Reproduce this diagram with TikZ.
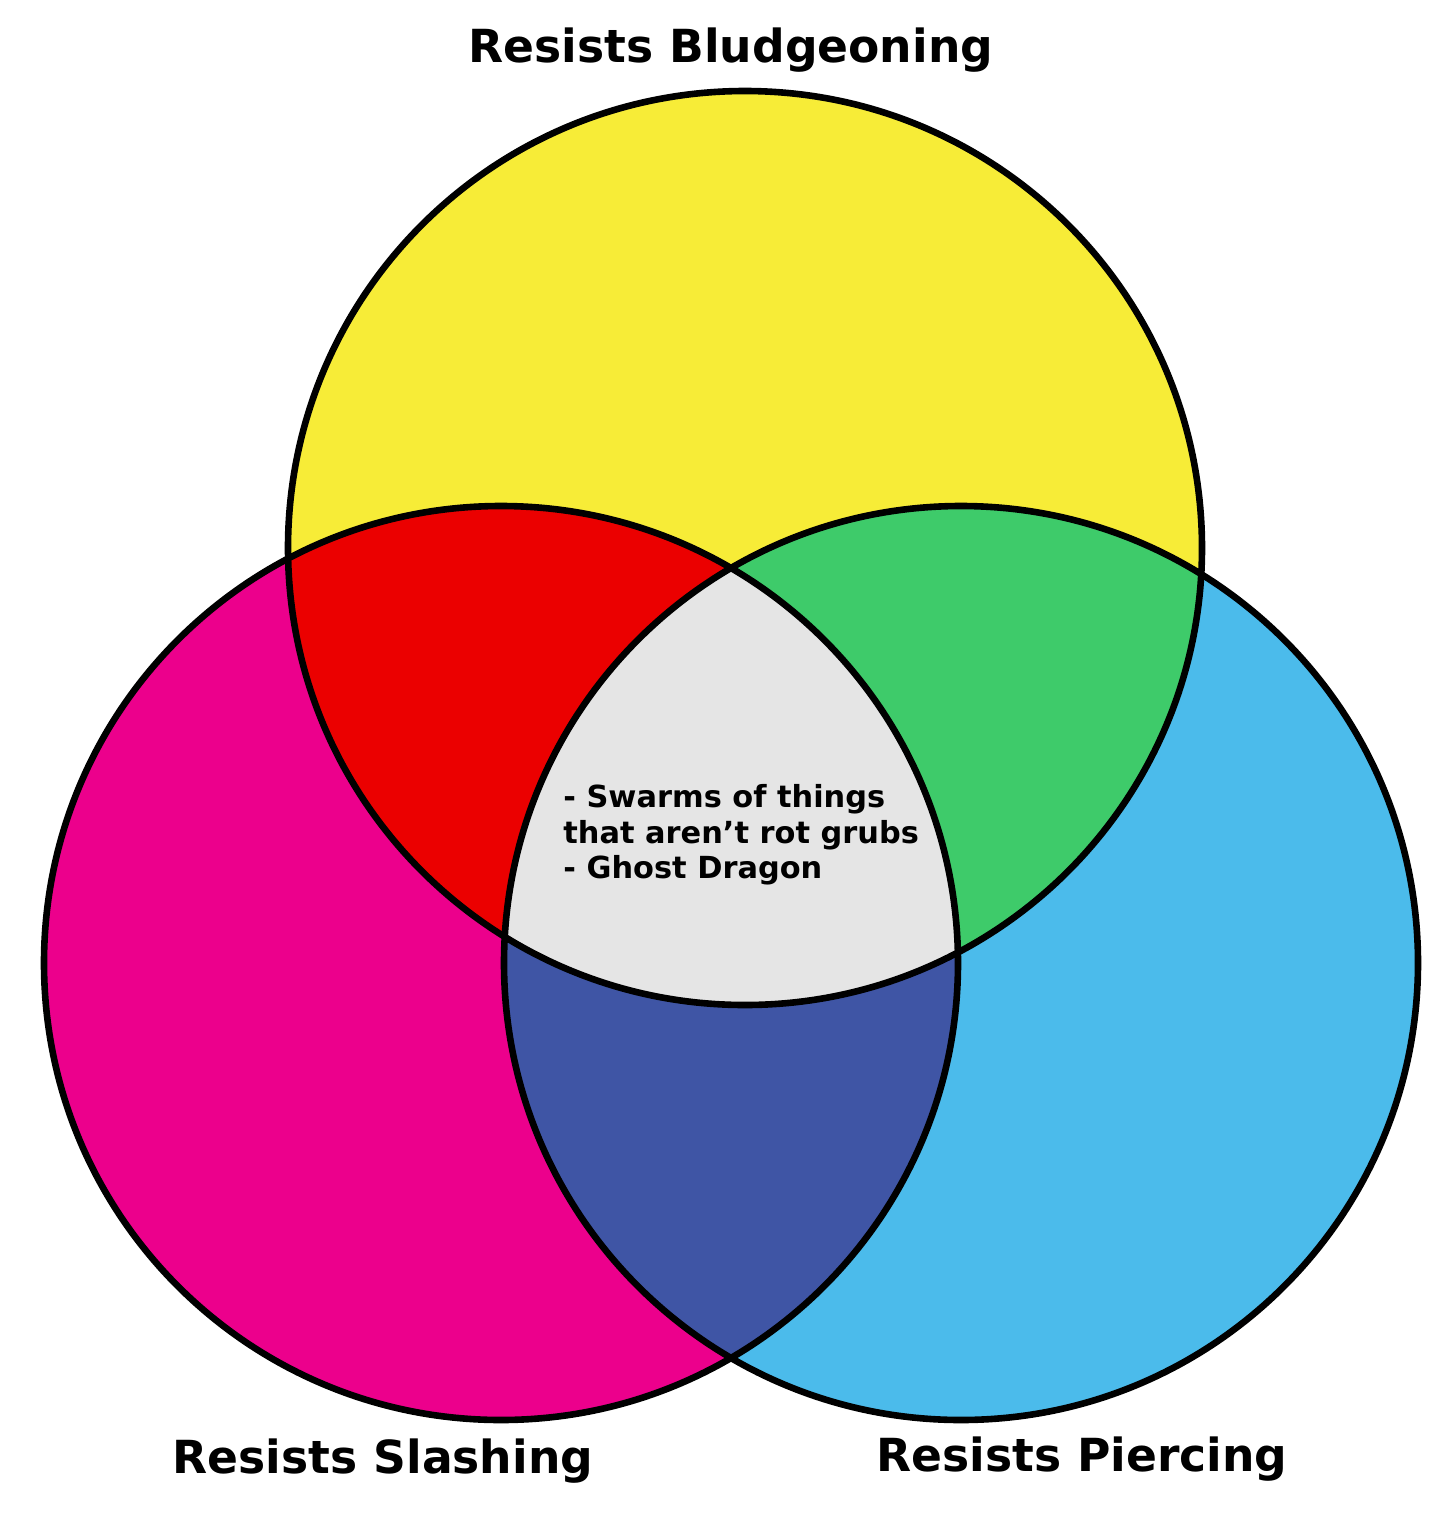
\documentclass[tikz,border=0pt]{standalone}
\usepackage{fontspec}
\setmainfont{DejaVu Sans}
\definecolor{cyel}{HTML}{F7EC37}
\definecolor{cmag}{HTML}{EC008C}
\definecolor{ccya}{HTML}{4BBBEB}
\definecolor{cred}{HTML}{EB0000}
\definecolor{cgrn}{HTML}{3ECB6A}
\definecolor{cblu}{HTML}{3F55A5}
\definecolor{cgry}{HTML}{E5E5E5}
\begin{document}
\begin{tikzpicture}[x=0.5pt,y=-0.5pt,
  ring/.style={draw=black,line width=3.3pt},
  biglabel/.style={font=\bfseries\fontsize{22.8}{27}\selectfont,inner sep=0pt},
  smalllabel/.style={font=\bfseries\fontsize{15.2}{17.8}\selectfont,inner sep=0pt,align=left,anchor=north west}]
\useasboundingbox (0,0) rectangle (1456,1527);
\def\T{(745,548) circle (457)}
\def\L{(501,963) circle (457)}
\def\R{(961,963) circle (457)}
\fill[cyel] \T;
\fill[cmag] \L;
\fill[ccya] \R;
\begin{scope}\clip \T; \fill[cred] \L; \end{scope}
\begin{scope}\clip \T; \fill[cgrn] \R; \end{scope}
\begin{scope}\clip \L; \fill[cblu] \R; \end{scope}
\begin{scope}\clip \T; \clip \L; \fill[cgry] \R; \end{scope}
\draw[ring] \T;
\draw[ring] \L;
\draw[ring] \R;
\node[biglabel] (lb) at (731,50) {Resists Bludgeoning};
\node[biglabel] (ls) at (383,1461) {Resists Slashing};
\node[biglabel] (lp) at (1082,1459) {Resists Piercing};
\node[smalllabel] (c) at (563,784) {- Swarms of things\\that aren’t rot grubs\\- Ghost Dragon};
\end{tikzpicture}
\end{document}
